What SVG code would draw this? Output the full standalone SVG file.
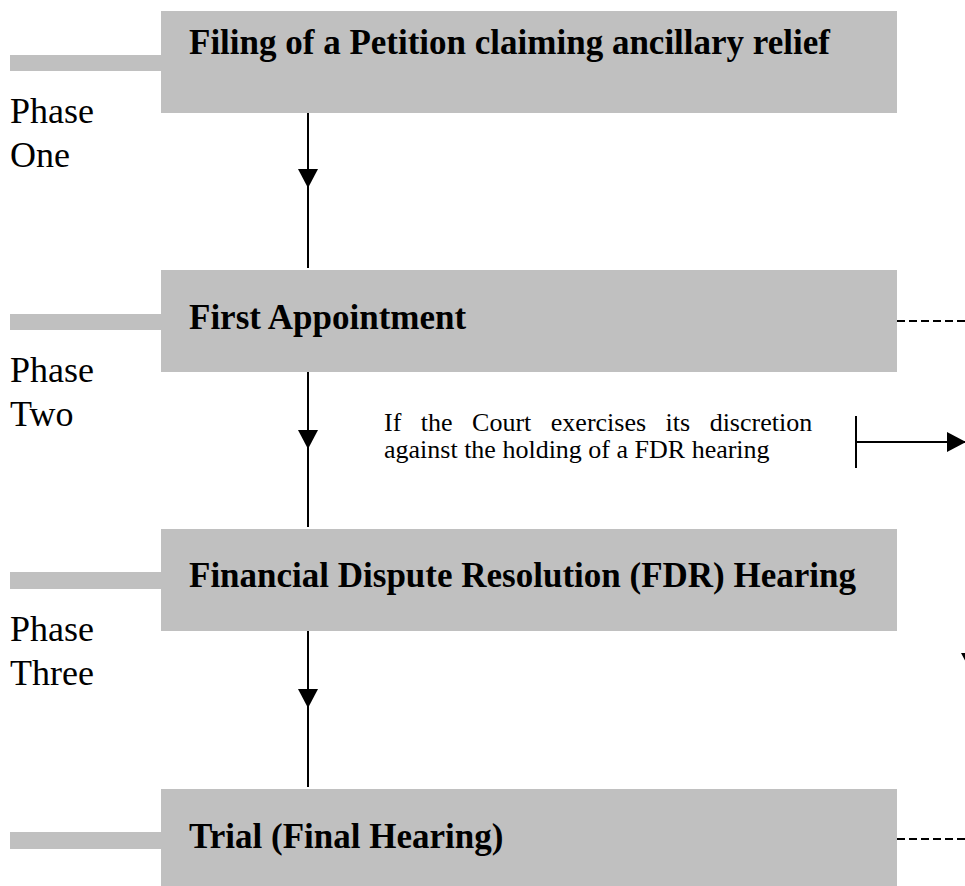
<svg xmlns="http://www.w3.org/2000/svg" width="965" height="886" viewBox="0 0 965 886">
  <style>
    .box { fill: #c0c0c0; }
    .title { font-family: "Liberation Serif", "Times New Roman", serif; font-weight: bold; font-size: 35px; fill: #000; }
    .phase { font-family: "Liberation Serif", "Times New Roman", serif; font-size: 36px; fill: #000; }
    .note { font-family: "Liberation Serif", "Times New Roman", serif; font-size: 26px; fill: #000; }
    .line { stroke: #000; stroke-width: 2; fill: none; }
    .dash { stroke: #000; stroke-width: 2; fill: none; stroke-dasharray: 8 4; }
  </style>
  <defs>
    <marker id="arrow" markerUnits="userSpaceOnUse" viewBox="0 0 19 20" refX="19" refY="10" markerWidth="19" markerHeight="20" orient="auto">
      <path d="M0,0 L19,10 L0,20 z" fill="#000"/>
    </marker>
  </defs>

  <g id="node-filing">
    <rect class="box" x="10" y="55" width="152" height="16"/>
    <rect class="box" x="161" y="11" width="736" height="102"/>
    <text class="title" x="189" y="54">Filing of a Petition claiming ancillary relief</text>
  </g>
  <g id="label-phase-one">
    <text class="phase" x="10" y="123">Phase</text>
    <text class="phase" x="10" y="167">One</text>
  </g>

  <g id="node-first-appointment">
    <rect class="box" x="10" y="314" width="152" height="16"/>
    <rect class="box" x="161" y="270" width="736" height="102"/>
    <text class="title" x="189" y="329">First Appointment</text>
  </g>
  <g id="label-phase-two">
    <text class="phase" x="10" y="382">Phase</text>
    <text class="phase" x="10" y="426">Two</text>
  </g>

  <g id="node-fdr">
    <rect class="box" x="10" y="572" width="152" height="17"/>
    <rect class="box" x="161" y="529" width="736" height="102"/>
    <text class="title" x="189" y="587">Financial Dispute Resolution (FDR) Hearing</text>
  </g>
  <g id="label-phase-three">
    <text class="phase" x="10" y="641">Phase</text>
    <text class="phase" x="10" y="685">Three</text>
  </g>

  <g id="node-trial">
    <rect class="box" x="10" y="832" width="152" height="17"/>
    <rect class="box" x="161" y="789" width="736" height="102"/>
    <text class="title" x="189" y="848">Trial (Final Hearing)</text>
  </g>

  <g id="note-discretion">
    <text class="note" x="384" y="431" word-spacing="13">If the Court exercises its discretion</text>
    <text class="note" x="384" y="458">against the holding of a FDR hearing</text>
  </g>

  <g id="connectors">
    <path class="line" d="M308,113 L308,188 L308,268" marker-mid="url(#arrow)"/>
    <path class="line" d="M308,372 L308,449 L308,527" marker-mid="url(#arrow)"/>
    <path class="line" d="M308,631 L308,708 L308,787" marker-mid="url(#arrow)"/>
    <path class="dash" d="M897,321 H965"/>
    <path class="dash" d="M897,839 H965"/>
    <path class="line" d="M856,416 V468"/>
    <path class="line" d="M856,442 H966" marker-end="url(#arrow)"/>
    <path class="line" d="M971,631 V672" marker-end="url(#arrow)"/>
  </g>
</svg>
